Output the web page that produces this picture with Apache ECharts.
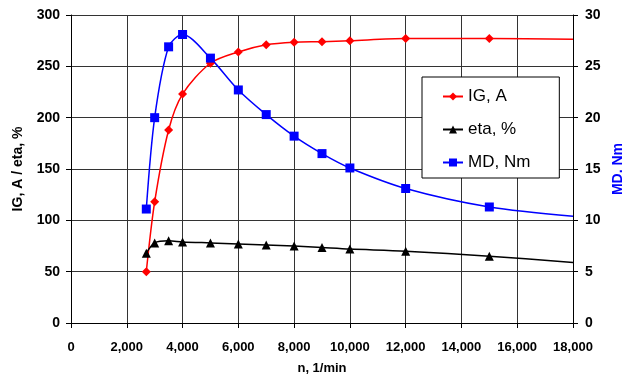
<!DOCTYPE html>
<html><head><meta charset="utf-8">
<script src="https://cdn.jsdelivr.net/npm/echarts@6/dist/echarts.min.js"></script>
<style>html,body{margin:0;padding:0;background:#fff}#c{width:622px;height:381px}</style>
</head><body><div id="c"></div>
<script>
const speeds = [2700, 3000, 3500, 4000, 5000, 6000, 7000, 8000, 9000, 10000, 12000, 15000, 18000];
const igValues = [50, 118, 188, 223, 253, 264, 271, 273.5, 274, 275, 277, 277, 276.5];
const etaValues = [68, 78, 80, 79, 78, 77, 76, 75, 73.5, 72, 70, 65, 59];
const mdValues = [11.1, 20.0, 26.9, 28.1, 25.8, 22.7, 20.3, 18.2, 16.5, 15.1, 13.1, 11.3, 10.4];
const xTicks = [0, 2000, 4000, 6000, 8000, 10000, 12000, 14000, 16000, 18000];
const leftTicks = [0, 50, 100, 150, 200, 250, 300];
const rightTicks = [0, 5, 10, 15, 20, 25, 30];

function mk(vals) {
  return speeds.map((s, i) => i === speeds.length - 1 ? { value: [s, vals[i]], symbol: 'none' } : [s, vals[i]]);
}
const font = 'Liberation Sans, Arial, sans-serif';
const chart = echarts.init(document.getElementById('c'), null, { renderer: 'canvas' });
chart.setOption({
  animation: false,
  backgroundColor: '#fff',
  grid: { left: 71, right: 49, top: 15, bottom: 58, containLabel: false, outerBoundsMode: 'none' },
  legend: {
    orient: 'vertical', left: 422, top: 77,
    padding: [11, 29, 7, 20],
    backgroundColor: '#fff', borderColor: '#000', borderWidth: 1,
    itemWidth: 20, itemHeight: 10, itemGap: 16,
    textStyle: { fontFamily: font, fontSize: 17, lineHeight: 17, color: '#000' },
    data: ['IG, A', 'eta, %', 'MD, Nm']
  },
  xAxis: {
    type: 'value', min: xTicks[0], max: xTicks[xTicks.length - 1], interval: 2000,
    name: 'n, 1/min', nameLocation: 'middle', nameGap: 39,
    nameTextStyle: { fontFamily: font, fontSize: 13, fontWeight: 'bold', color: '#000' },
    axisLine: { show: true, lineStyle: { color: '#000', width: 1 } },
    axisTick: { show: true, length: 5, lineStyle: { color: '#000' } },
    axisLabel: { fontFamily: font, fontSize: 13, fontWeight: 'bold', color: '#000', margin: 18,
      formatter: v => v.toLocaleString('en-US') },
    splitLine: { show: true, lineStyle: { color: '#333', width: 1 } }
  },
  yAxis: [{
    type: 'value', min: leftTicks[0], max: leftTicks[leftTicks.length - 1], interval: 50,
    name: 'IG, A / eta, %', nameLocation: 'middle', nameGap: 46, nameRotate: 90,
    nameTextStyle: { fontFamily: font, fontSize: 14, fontWeight: 'bold', color: '#000' },
    axisLine: { show: true, lineStyle: { color: '#000', width: 1 } },
    axisTick: { show: true, length: 5, lineStyle: { color: '#000' } },
    axisLabel: { fontFamily: font, fontSize: 14, fontWeight: 'bold', color: '#000', margin: 11 },
    splitLine: { show: true, lineStyle: { color: '#333', width: 1 } }
  }, {
    type: 'value', min: rightTicks[0], max: rightTicks[rightTicks.length - 1], interval: 5,
    position: 'right',
    name: 'MD, Nm', nameLocation: 'middle', nameGap: 25, nameRotate: 90,
    nameTextStyle: { fontFamily: font, fontSize: 14, fontWeight: 'bold', color: '#0000ff' },
    axisLine: { show: true, lineStyle: { color: '#000', width: 1 } },
    axisTick: { show: true, length: 5, lineStyle: { color: '#000' } },
    axisLabel: { fontFamily: font, fontSize: 14, fontWeight: 'bold', color: '#000', margin: 12 },
    splitLine: { show: false }
  }],
  series: [{
    name: 'IG, A', type: 'line', yAxisIndex: 0, smooth: 0.3,
    data: mk(igValues), symbol: 'diamond', symbolSize: 9,
    itemStyle: { color: '#ff0000' }, lineStyle: { color: '#ff0000', width: 1.5 }
  }, {
    name: 'eta, %', type: 'line', yAxisIndex: 0, smooth: 0.3,
    data: mk(etaValues), symbol: 'triangle', symbolSize: 9,
    itemStyle: { color: '#000' }, lineStyle: { color: '#000', width: 1.5 }
  }, {
    name: 'MD, Nm', type: 'line', yAxisIndex: 1, smooth: 0.3,
    data: mk(mdValues), symbol: 'rect', symbolSize: 9,
    itemStyle: { color: '#0000ff' }, lineStyle: { color: '#0000ff', width: 1.5 }
  }]
});
</script></body></html>
